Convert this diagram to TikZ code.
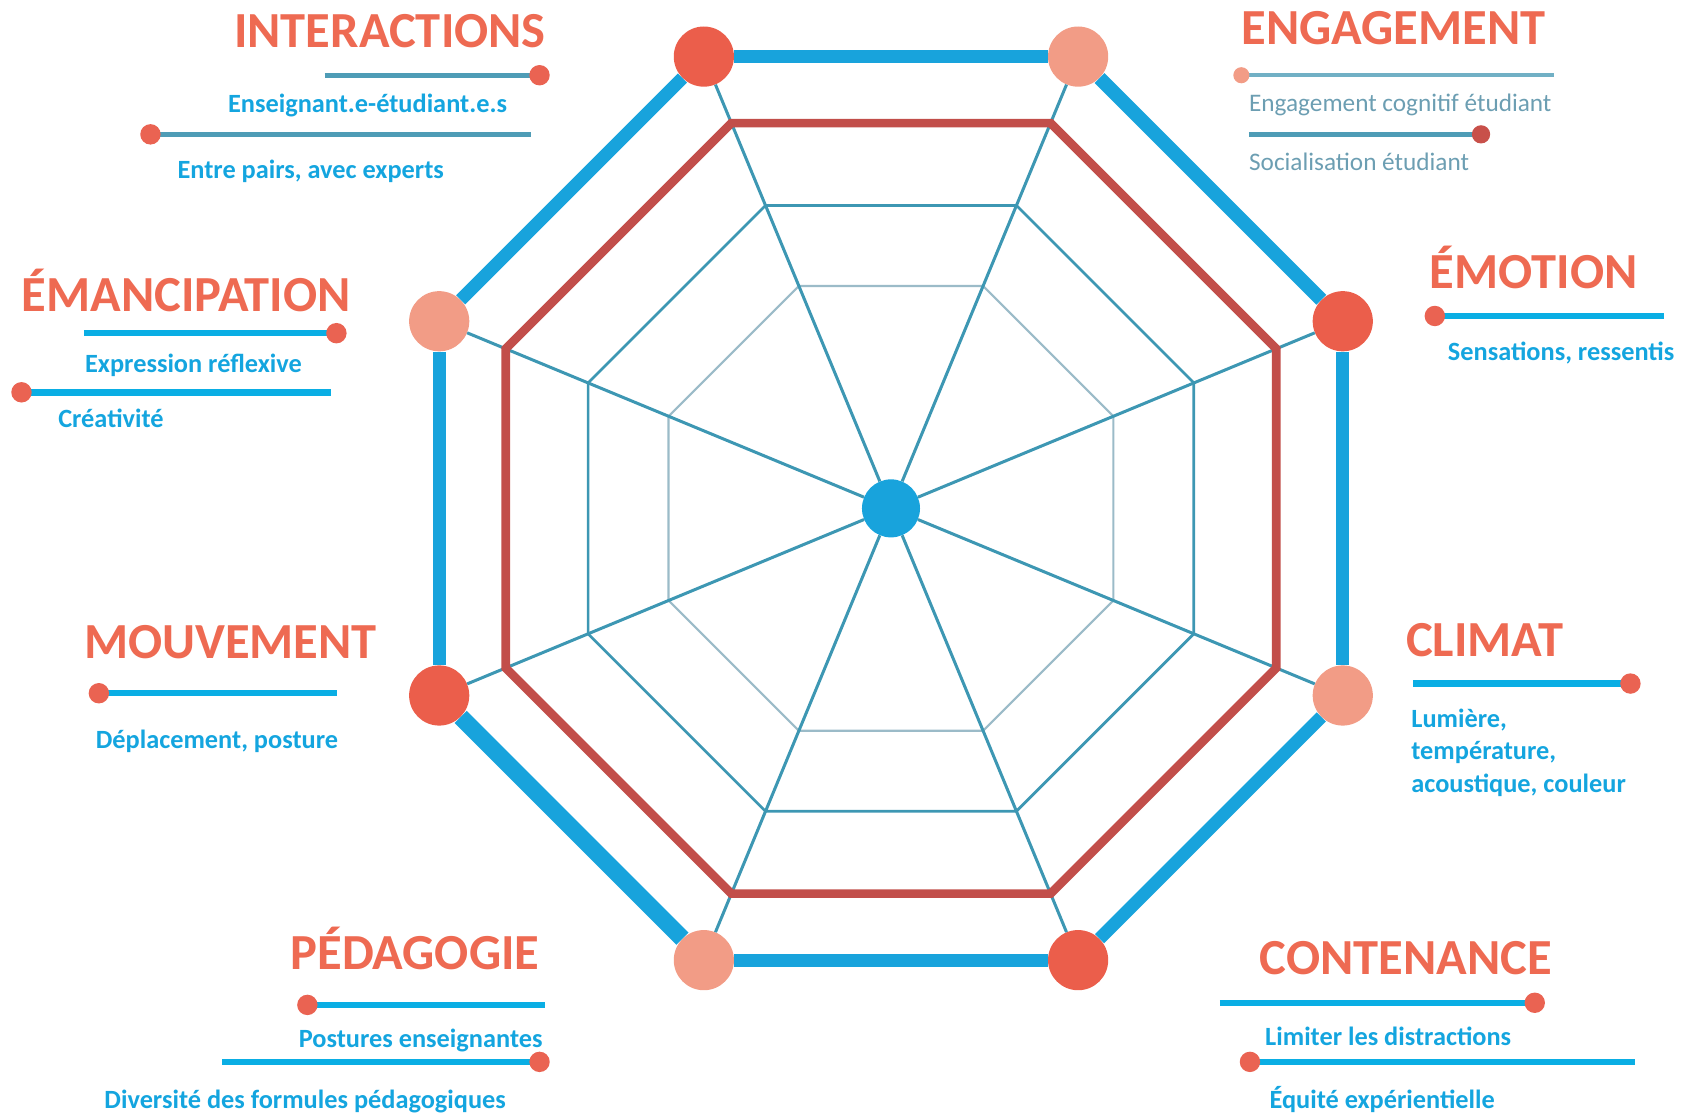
\documentclass[tikz,border=0pt]{standalone}
\usepackage{fontspec}
\setmainfont{Carlito}
\usetikzlibrary{calc}
\definecolor{titlecol}{HTML}{EE6A52}
\definecolor{subcol}{HTML}{14A5DF}
\definecolor{rimblue}{HTML}{18A3DC}
\definecolor{legblue}{HTML}{0AAEE4}
\definecolor{leggrey}{HTML}{4E9CB6}
\definecolor{spokecol}{HTML}{3D97B3}
\definecolor{ringlight}{HTML}{9BBBC8}
\definecolor{octred}{HTML}{C24E4A}
\definecolor{dotdark}{HTML}{EB5E4B}
\definecolor{dotlight}{HTML}{F29C86}
\definecolor{legdotcol}{HTML}{EA6352}
\definecolor{engtext}{HTML}{6C9EB2}
\tikzset{
    title/.style={text=titlecol, font=\bfseries\fontsize{47}{50}\selectfont, inner sep=0pt},
    subtitle/.style={text=subcol, font=\bfseries\fontsize{24.5}{30}\selectfont, inner sep=0pt},
    engsub/.style={text=engtext, font=\fontsize{23.5}{30}\selectfont, inner sep=0pt},
    vertex/.style={circle, minimum size=56pt, inner sep=0pt},
    hub/.style={circle, fill=rimblue, minimum size=54pt, inner sep=0pt},
    spoke/.style={draw=spokecol, line width=2.8pt},
    rim/.style={draw=rimblue},
    legline/.style={draw=legblue, line width=6pt},
    legdot/.style={circle, fill=legdotcol, minimum size=19pt, inner sep=0pt},
}

\begin{document}
\begin{tikzpicture}[x=1pt, y=-1pt]
    \useasboundingbox (0,0) rectangle (1565,1036);
    \node[hub] (centre) at (829,473) {};
    % web rings
    \draw[ringlight, line width=2pt] ($(centre)+(247.5:224)$) \foreach \a in {292.5,337.5,382.5,427.5,472.5,517.5,562.5} { -- ($(centre)+(\a:224)$) } -- cycle;
    \draw[spokecol, line width=2.5pt] ($(centre)+(247.5:305)$) \foreach \a in {292.5,337.5,382.5,427.5,472.5,517.5,562.5} { -- ($(centre)+(\a:305)$) } -- cycle;
    % outer vertices
    \foreach \n/\a/\col in {p1/247.5/dotdark, p2/292.5/dotlight, p3/337.5/dotdark, p4/22.5/dotlight,
        p5/67.5/dotdark, p6/112.5/dotlight, p7/157.5/dotdark, p8/202.5/dotlight}
        \node[vertex, fill=\col] (\n) at ($(centre)+(\a:455)$) {};
    \foreach \n in {p1,p2,p3,p4,p5,p6,p7,p8}
        \draw[spoke] (centre) -- (\n);
    \draw[octred, line width=8pt] ($(centre)+(247.5:388)$) \foreach \a in {292.5,337.5,382.5,427.5,472.5,517.5,562.5} { -- ($(centre)+(\a:388)$) } -- cycle;
    \foreach \s/\t/\w in {p1/p2/12, p2/p3/13, p3/p4/12, p4/p5/12, p5/p6/12, p6/p7/16, p7/p8/12, p8/p1/12}
        \draw[rim, line width=\w pt] (\s) -- (\t);

    % legend lines
    \foreach \name/\xa/\xb/\y/\side in {em1/78/313/310/r, em2/20/308/365/l, mv1/92/314/645/l,
        pe1/286/507/935/l, pe2/207/502/988/r, emo1/1335/1548/294/l, cl1/1315/1517/636/r,
        co1/1135/1428/933/r, co2/1163/1521/988/l}
    {
        \coordinate (\name-l) at (\xa,\y);
        \coordinate (\name-r) at (\xb,\y);
        \draw[legline] (\name-l) -- (\name-r);
        \node[legdot] (\name-dot) at (\name-\side) {};
    }
    \foreach \name/\xa/\xb/\y/\side in {in1/302/502/70/r, in2/140/494/125/l}
    {
        \coordinate (\name-l) at (\xa,\y);
        \coordinate (\name-r) at (\xb,\y);
        \draw[legline, draw=leggrey, line width=4.5pt] (\name-l) -- (\name-r);
        \node[legdot] (\name-dot) at (\name-\side) {};
    }
    \coordinate (en1-l) at (1155,70);
    \coordinate (en1-r) at (1446,70);
    \coordinate (en2-l) at (1162,125);
    \coordinate (en2-r) at (1378,125);
    \draw[legline, draw=leggrey!80, line width=4pt] (en1-l) -- (en1-r);
    \draw[legline, draw=leggrey, line width=4.5pt] (en2-l) -- (en2-r);
    \node[legdot, fill=dotlight, minimum size=15pt] (en1-dot) at (en1-l) {};
    \node[legdot, fill=octred!85!dotdark, minimum size=17pt] (en2-dot) at (en2-r) {};

    % titles
    \node[title, anchor=base east] (interactions) at (508,44) {INTERACTIONS};
    \node[title, anchor=base west] (emancipation) at (20,290) {ÉMANCIPATION};
    \node[title, anchor=base west] (mouvement) at (78,613) {MOUVEMENT};
    \node[title, anchor=base east] (pedagogie) at (502,902) {PÉDAGOGIE};
    \node[title, anchor=base west] (engagement) at (1155,41) {ENGAGEMENT};
    \node[title, anchor=base west] (emotion) at (1330,268) {ÉMOTION};
    \node[title, anchor=base west] (climat) at (1308,611) {CLIMAT};
    \node[title, anchor=base west] (contenance) at (1172,907) {CONTENANCE};

    % sub items
    \node[subtitle, anchor=base west] (ens) at (212,105) {Enseignant.e-étudiant.e.s};
    \node[subtitle, anchor=base west] (pairs) at (165,166) {Entre pairs, avec experts};
    \node[subtitle, anchor=base west] (expr) at (79,347) {Expression réflexive};
    \node[subtitle, anchor=base west] (crea) at (54,398) {Créativité};
    \node[subtitle, anchor=base west] (depl) at (89,696) {Déplacement, posture};
    \node[subtitle, anchor=base east] (post) at (505,975) {Postures enseignantes};
    \node[subtitle, anchor=base west] (div) at (97,1031) {Diversité des formules pédagogiques};
    \node[engsub, anchor=base west] (cogn) at (1162,104) {Engagement cognitif étudiant};
    \node[engsub, anchor=base west] (soc) at (1162,159) {Socialisation étudiant};
    \node[subtitle, anchor=base west] (sens) at (1347,335) {Sensations, ressentis};
    \node[subtitle, anchor=base west, align=left] (lum) at (1313,737) {Lumière,\\température,\\acoustique, couleur};
    \node[subtitle, anchor=base west] (limit) at (1177,973) {Limiter les distractions};
    \node[subtitle, anchor=base west] (equi) at (1181,1031) {Équité expérientielle};
\end{tikzpicture}
\end{document}
